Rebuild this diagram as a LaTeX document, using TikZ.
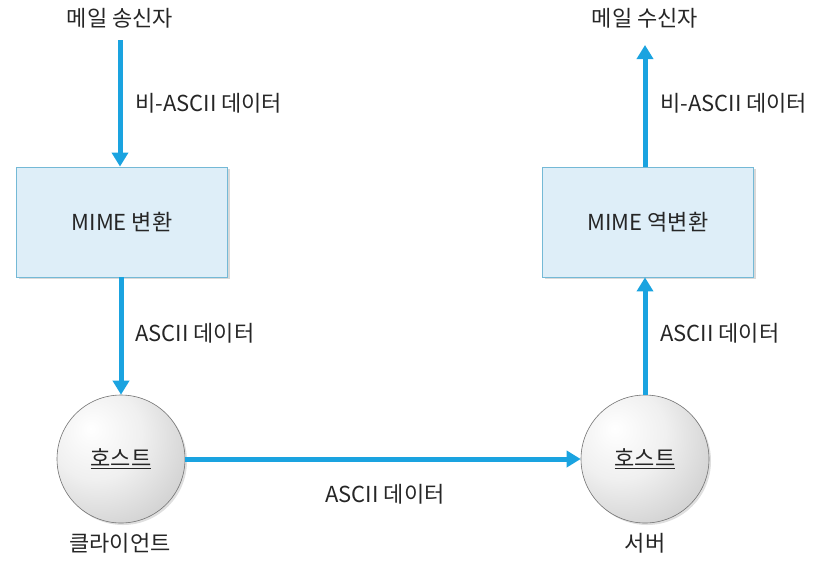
\documentclass[tikz,border=0pt]{standalone}
\usepackage{fontspec}
\setmainfont{Noto Sans CJK KR}
\usetikzlibrary{arrows.meta,shadows}
\definecolor{arrowblue}{HTML}{1AA3E0}
\definecolor{boxfill}{HTML}{DEEEF8}
\definecolor{boxdraw}{HTML}{74B9D6}
\pgfdeclareradialshading{hostshade}{\pgfpoint{-12bp}{12bp}}{color(0bp)=(white); color(18bp)=(black!6); color(40bp)=(black!20); color(58bp)=(black!38); color(68bp)=(black!50); color(100bp)=(black!50)}
\tikzset{
  flow/.style={draw=arrowblue, line width=5pt, -{Triangle[length=14pt,width=16pt]}},
  procbox/.style={draw=boxdraw, fill=boxfill, line width=0.8pt, minimum width=211pt, minimum height=110pt, inner sep=0pt, drop shadow={shadow xshift=2pt, shadow yshift=-2pt, opacity=0.3}},
  hostball/.style={circle, draw=black!55, line width=0.6pt, shading=hostshade, minimum size=128pt, inner sep=0pt, drop shadow={shadow xshift=2pt, shadow yshift=-2pt, opacity=0.25}},
  lbl/.style={font=\fontsize{22}{24}\selectfont, text=black!85, inner sep=0pt},
}
\begin{document}
\begin{tikzpicture}[x=1pt,y=-1pt]
\useasboundingbox (0,0) rectangle (821,566);
% top labels
\node[lbl] (sender) at (120,18) {메일 송신자};
\node[lbl] (receiver) at (645,18) {메일 수신자};
% boxes
\node[procbox, lbl] (mime) at (122,222) {MIME 변환};
\node[procbox, lbl] (rmime) at (648,222) {MIME 역변환};
% hosts
\node[hostball, lbl] (client) at (121,459) {\underline{호스트}};
\node[hostball, lbl] (server) at (645,459) {\underline{호스트}};
\node[lbl] (clientlbl) at (120,543) {클라이언트};
\node[lbl] (serverlbl) at (645,543) {서버};
% arrow endpoints
\coordinate (s1) at (120,40);
\coordinate (r1) at (645,45);
% connectors
\draw[flow] (s1) -- (s1 |- mime.north);
\draw[flow] (client.north |- mime.south) -- (client.north);
\draw[flow] (client.east) -- (server.west);
\draw[flow] (server.north) -- (server.north |- rmime.south);
\draw[flow] (server.north |- rmime.north) -- (r1);
% edge labels
\node[lbl, anchor=west] (l1) at (135,103) {비-ASCII 데이터};
\node[lbl, anchor=west] (l2) at (135,333) {ASCII 데이터};
\node[lbl, anchor=west] (l3) at (660,103) {비-ASCII 데이터};
\node[lbl, anchor=west] (l4) at (660,333) {ASCII 데이터};
\node[lbl] (l5) at (385,494) {ASCII 데이터};
\end{tikzpicture}
\end{document}
